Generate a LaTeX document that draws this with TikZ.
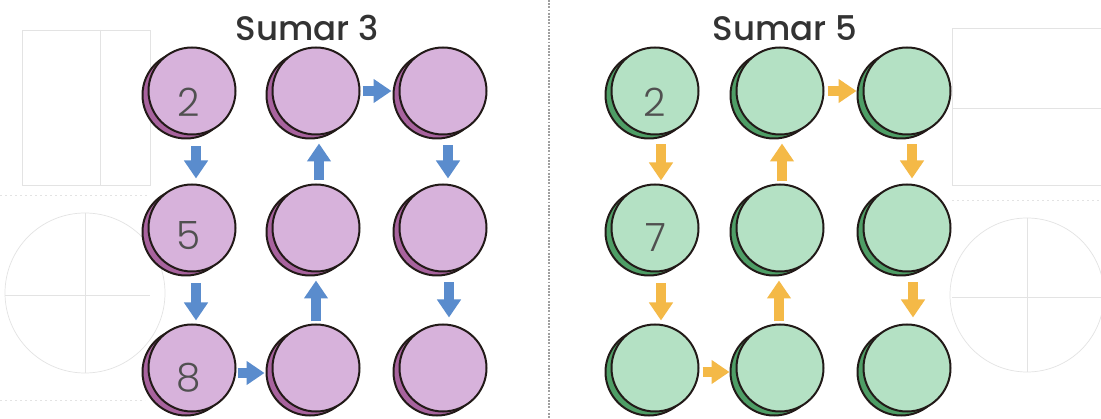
\documentclass[tikz,border=0pt]{standalone}
\usepackage{fontspec}
\setmainfont{Poppins}
\newfontfamily\numfont{Poppins Light}
\newfontfamily\titlefont{Poppins Medium}
\usetikzlibrary{arrows.meta,shadows}
\definecolor{lilac}{HTML}{D7B2DB}
\definecolor{lilacdark}{HTML}{A8639E}
\definecolor{mint}{HTML}{B4E1C4}
\definecolor{mintdark}{HTML}{4E9E66}
\definecolor{arrowblue}{HTML}{5A8CCD}
\definecolor{arroworange}{HTML}{F4B947}
\definecolor{outline}{HTML}{221A18}
\definecolor{titlegray}{HTML}{333333}
\definecolor{numgray}{HTML}{505050}
\tikzset{
  bubble/.style={circle, minimum size=87pt, inner sep=0pt, draw=outline, line width=2pt},
  pbub/.style={bubble, fill=lilac,
    general shadow={shadow xshift=-6pt, shadow yshift=-4pt, fill=lilacdark, draw=outline, line width=2pt}},
  gbub/.style={bubble, fill=mint,
    general shadow={shadow xshift=-6pt, shadow yshift=-4pt, fill=mintdark, draw=outline, line width=2pt}},
  barrow/.style={line width=10pt, draw=arrowblue, -{Triangle[width=23pt,length=18pt]}},
  oarrow/.style={line width=10pt, draw=arroworange, -{Triangle[width=23pt,length=18pt]}},
  titletext/.style={font=\titlefont\fontsize{34}{36}\selectfont, text=titlegray, anchor=base, inner sep=0pt},
  numtext/.style={font=\numfont\fontsize{39}{40}\selectfont, text=numgray, anchor=base, inner sep=0pt},
  faint/.style={draw=gray!22, line width=0.7pt}
}
\begin{document}
\begin{tikzpicture}[x=1pt,y=-1pt]
\useasboundingbox (0,0) rectangle (1101,419);
\fill[white] (0,0) rectangle (1101,419);
% faint scanned background
\draw[faint] (22,30) rectangle (150,185);
\draw[faint] (100,30) -- (100,185);
\draw[faint, dash pattern=on 2pt off 3pt] (0,195) -- (150,195);
\draw[faint] (85,293) circle[radius=80];
\draw[faint] (85,213) -- (85,373);
\draw[faint] (5,295) -- (150,295);
\draw[faint, dash pattern=on 2pt off 3pt] (0,400) -- (145,400);
\draw[faint] (952,28) rectangle (1101,185);
\draw[faint] (952,108) -- (1101,108);
\draw[faint, dash pattern=on 2pt off 3pt] (952,200) -- (1101,200);
\draw[faint] (1027,295) circle[radius=77];
\draw[faint] (1027,218) -- (1027,372);
\draw[faint] (952,297) -- (1101,297);
% divider
\draw[gray!75, line width=2pt, dash pattern=on 1.8pt off 1.4pt] (549,0) -- (549,419);
% titles
\node[titletext] (t1) at (307,41) {Sumar 3};
\node[titletext] (t2) at (785,41) {Sumar 5};
% purple bubbles
\node[pbub] (p11) at (192,91) {};
\node[pbub] (p12) at (316,91) {};
\node[pbub] (p13) at (443,91) {};
\node[pbub] (p21) at (192,228) {};
\node[pbub] (p22) at (316,228) {};
\node[pbub] (p23) at (443,228) {};
\node[pbub] (p31) at (192,368) {};
\node[pbub] (p32) at (316,368) {};
\node[pbub] (p33) at (443,368) {};
% green bubbles
\node[gbub] (g11) at (655,91) {};
\node[gbub] (g12) at (780,91) {};
\node[gbub] (g13) at (907,91) {};
\node[gbub] (g21) at (655,228) {};
\node[gbub] (g22) at (780,228) {};
\node[gbub] (g23) at (907,228) {};
\node[gbub] (g31) at (655,368) {};
\node[gbub] (g32) at (780,368) {};
\node[gbub] (g33) at (907,368) {};
% numbers
\node[numtext] (n1) at (189,117) {2};
\node[numtext] (n2) at (189,250) {5};
\node[numtext] (n3) at (189,392) {8};
\node[numtext] (n4) at (655,117) {2};
\node[numtext] (n5) at (656,252) {7};
% blue arrows
\draw[barrow, shorten <=11pt, shorten >=5pt] ([xshift=4pt]p11.south) -- ([xshift=4pt]p21.north);
\draw[barrow, shorten <=3pt, shorten >=8pt] ([xshift=3pt]p22.north) -- ([xshift=3pt]p12.south);
\draw[barrow, shorten <=10pt, shorten >=5pt] ([xshift=5pt]p13.south) -- ([xshift=5pt]p23.north);
\draw[barrow, shorten <=2pt, shorten >=7pt] (p12.east) -- (p13.west);
\draw[barrow, shorten <=11pt, shorten >=3pt] ([xshift=4pt]p21.south) -- ([xshift=4pt]p31.north);
\draw[barrow, shorten <=2pt, shorten >=8pt] (p32.north) -- (p22.south);
\draw[barrow, shorten <=10pt, shorten >=6pt] ([xshift=6pt]p23.south) -- ([xshift=6pt]p33.north);
\draw[barrow, shorten <=1pt, shorten >=7pt] ([yshift=-5pt]p31.east) -- ([yshift=-5pt]p32.west);
% orange arrows
\draw[oarrow, shorten <=9pt, shorten >=3pt] ([xshift=6pt]g11.south) -- ([xshift=6pt]g21.north);
\draw[oarrow, shorten <=2pt, shorten >=8pt] ([xshift=2pt]g22.north) -- ([xshift=2pt]g12.south);
\draw[oarrow, shorten <=9pt, shorten >=5pt] ([xshift=5pt]g13.south) -- ([xshift=5pt]g23.north);
\draw[oarrow, shorten <=3pt, shorten >=6pt] (g12.east) -- (g13.west);
\draw[oarrow, shorten <=11pt, shorten >=3pt] ([xshift=6pt]g21.south) -- ([xshift=6pt]g31.north);
\draw[oarrow, shorten <=2pt, shorten >=8pt] ([xshift=-1pt]g32.north) -- ([xshift=-1pt]g22.south);
\draw[oarrow, shorten <=10pt, shorten >=6pt] ([xshift=6pt]g23.south) -- ([xshift=6pt]g33.north);
\draw[oarrow, shorten <=3pt, shorten >=6pt] ([yshift=-4pt]g31.east) -- ([yshift=-4pt]g32.west);
\end{tikzpicture}
\end{document}
